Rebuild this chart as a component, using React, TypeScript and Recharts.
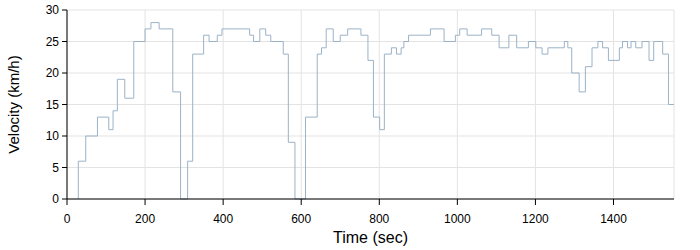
import React from "react";
import { LineChart, Line, XAxis, YAxis, CartesianGrid } from "recharts";

const times = [29, 29, 48, 78, 107, 118, 129, 148, 171, 200, 215, 236, 271, 291, 309, 322, 350, 364, 385, 397, 468, 478, 494, 509, 522, 554, 567, 584, 611, 641, 652, 664, 682, 700, 719, 753, 771, 785, 801, 813, 831, 844, 856, 863, 875, 931, 966, 995, 1006, 1025, 1062, 1088, 1107, 1132, 1152, 1182, 1201, 1217, 1232, 1274, 1283, 1293, 1312, 1328, 1345, 1360, 1372, 1387, 1415, 1423, 1436, 1445, 1457, 1473, 1491, 1503, 1526, 1541, 1555];
const velocities = [0, 6, 10, 13, 11, 14, 19, 16, 25, 27, 28, 27, 17, 0, 6, 23, 26, 25, 26, 27, 26, 25, 27, 26, 25, 23, 9, 0, 13, 23, 24, 27, 25, 26, 27, 26, 22, 13, 11, 23, 24, 23, 24, 25, 26, 27, 25, 26, 27, 26, 27, 26, 24, 26, 24, 25, 24, 23, 24, 25, 24, 20, 17, 21, 24, 25, 24, 22, 24, 25, 24, 25, 24, 25, 22, 25, 23, 15, 15];
const xTicks = [0, 200, 400, 600, 800, 1000, 1200, 1400];
const yTicks = [0, 5, 10, 15, 20, 25, 30];

const data = times.map((t, i) => ({ t, v: velocities[i] }));

const FONT = "'Liberation Sans', Arial, sans-serif";

export default function App() {
  return (
    <div style={{ position: "absolute", left: 0, top: 0, background: "#fff" }}>
      <LineChart
        width={700}
        height={250}
        data={data}
        margin={{ top: 10, right: 26, bottom: 0, left: 0 }}
      >
        <CartesianGrid xAxisId="b" yAxisId="l" stroke="#e3e3e3" strokeWidth={1} />
        <XAxis
          xAxisId="b"
          dataKey="t"
          type="number"
          domain={[0, 1555]}
          ticks={xTicks}
          allowDataOverflow
          height={51}
          stroke="#000"
          tickSize={6}
          tickMargin={9}
          tick={{ fill: "#000", fontSize: 12, fontFamily: FONT }}
          label={{ value: "Time (sec)", position: "insideBottom", offset: 7, fill: "#000", fontSize: 16, fontFamily: FONT }}
        />
        <XAxis xAxisId="t" orientation="top" dataKey="t" type="number" domain={[0, 1555]} height={0} tick={false} tickLine={false} stroke="#000" />
        <YAxis
          yAxisId="l"
          type="number"
          domain={[0, 30]}
          ticks={yTicks}
          width={67}
          stroke="#000"
          tickSize={5}
          tickMargin={3}
          tick={{ fill: "#000", fontSize: 12, fontFamily: FONT }}
          label={{ value: "Velocity (km/h)", angle: -90, position: "insideLeft", offset: 14, style: { textAnchor: "middle" }, fill: "#000", fontSize: 15, fontFamily: FONT }}
        />
        <YAxis yAxisId="r" orientation="right" domain={[0, 30]} width={0} tick={false} tickLine={false} stroke="#000" />
        <Line
          xAxisId="b"
          yAxisId="l"
          type="stepAfter"
          dataKey="v"
          stroke="#9bb2c7"
          strokeWidth={1}
          dot={false}
          isAnimationActive={false}
        />
      </LineChart>
    </div>
  );
}
